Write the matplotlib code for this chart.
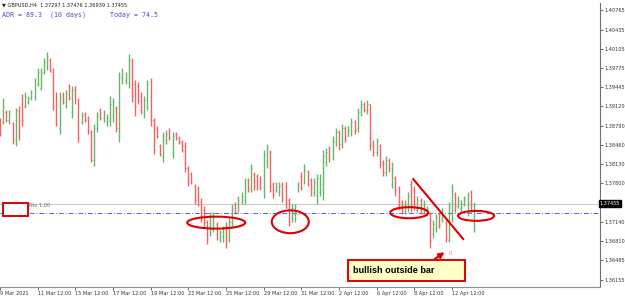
import matplotlib
matplotlib.use("Agg")
import matplotlib.pyplot as plt
from matplotlib.patches import Ellipse, Rectangle

# GBPUSD H4 bars, 9 Mar 12:00 .. 13 Apr
high = [1.3892, 1.3926, 1.3906, 1.3906, 1.3885, 1.3909, 1.3913, 1.3933, 1.3937, 1.3930,
        1.3940, 1.3961, 1.3978, 1.3978, 1.3995, 1.4005, 1.3995, 1.3978, 1.3937, 1.3937,
        1.3937, 1.3940, 1.3950, 1.3947, 1.3947, 1.3926, 1.3902, 1.3902, 1.3896, 1.3872,
        1.3882, 1.3902, 1.3909, 1.3906, 1.3899, 1.3930, 1.3926, 1.3913, 1.3971, 1.3978,
        1.3971, 1.4002, 1.3995, 1.3957, 1.3954, 1.3937, 1.3930, 1.3957, 1.3961, 1.3892,
        1.3878, 1.3848, 1.3868, 1.3872, 1.3875, 1.3868, 1.3868, 1.3861, 1.3854, 1.3851,
        1.3810, 1.3800, 1.3779, 1.3776, 1.3755, 1.3742, 1.3718, 1.3731, 1.3731, 1.3714,
        1.3701, 1.3707, 1.3714, 1.3721, 1.3745, 1.3749, 1.3759, 1.3766, 1.3790, 1.3790,
        1.3813, 1.3800, 1.3796, 1.3793, 1.3837, 1.3848, 1.3837, 1.3783, 1.3783, 1.3783,
        1.3783, 1.3783, 1.3755, 1.3745, 1.3745, 1.3783, 1.3800, 1.3813, 1.3803, 1.3790,
        1.3790, 1.3796, 1.3796, 1.3837, 1.3841, 1.3844, 1.3861, 1.3875, 1.3872, 1.3882,
        1.3878, 1.3878, 1.3892, 1.3889, 1.3909, 1.3923, 1.3919, 1.3923, 1.3916, 1.3854,
        1.3858, 1.3848, 1.3820, 1.3827, 1.3824, 1.3817, 1.3793, 1.3776, 1.3752, 1.3752,
        1.3766, 1.3786, 1.3776, 1.3759, 1.3755, 1.3752, 1.3742, 1.3731, 1.3718, 1.3728,
        1.3731, 1.3738, 1.3718, 1.3749, 1.3779, 1.3766, 1.3759, 1.3752, 1.3759, 1.3766,
        1.3769, 1.3749]
low = [1.3861, 1.3882, 1.3885, 1.3882, 1.3848, 1.3844, 1.3854, 1.3878, 1.3909, 1.3916,
       1.3923, 1.3923, 1.3947, 1.3940, 1.3967, 1.3974, 1.3971, 1.3906, 1.3878, 1.3865,
       1.3916, 1.3909, 1.3923, 1.3892, 1.3916, 1.3851, 1.3882, 1.3885, 1.3865, 1.3817,
       1.3810, 1.3868, 1.3889, 1.3885, 1.3878, 1.3878, 1.3885, 1.3868, 1.3851, 1.3950,
       1.3950, 1.3943, 1.3919, 1.3896, 1.3916, 1.3899, 1.3892, 1.3906, 1.3878, 1.3830,
       1.3858, 1.3827, 1.3817, 1.3848, 1.3854, 1.3824, 1.3854, 1.3848, 1.3834, 1.3800,
       1.3776, 1.3779, 1.3745, 1.3742, 1.3714, 1.3707, 1.3677, 1.3690, 1.3697, 1.3683,
       1.3680, 1.3680, 1.3670, 1.3680, 1.3707, 1.3728, 1.3731, 1.3745, 1.3745, 1.3766,
       1.3766, 1.3769, 1.3769, 1.3769, 1.3755, 1.3807, 1.3766, 1.3755, 1.3766, 1.3759,
       1.3749, 1.3738, 1.3707, 1.3714, 1.3714, 1.3766, 1.3769, 1.3779, 1.3776, 1.3759,
       1.3759, 1.3745, 1.3759, 1.3752, 1.3810, 1.3817, 1.3820, 1.3844, 1.3837, 1.3841,
       1.3851, 1.3861, 1.3861, 1.3865, 1.3868, 1.3896, 1.3902, 1.3899, 1.3837, 1.3827,
       1.3827, 1.3807, 1.3793, 1.3793, 1.3800, 1.3773, 1.3759, 1.3735, 1.3728, 1.3728,
       1.3731, 1.3731, 1.3735, 1.3731, 1.3728, 1.3728, 1.3725, 1.3670, 1.3687, 1.3697,
       1.3704, 1.3714, 1.3680, 1.3680, 1.3714, 1.3731, 1.3738, 1.3731, 1.3742, 1.3725,
       1.3731, 1.3697]
open_ = [1.3889, 1.3885, 1.3902, 1.3889, 1.3882, 1.3854, 1.3906, 1.3926, 1.3913, 1.3919,
         1.3926, 1.3930, 1.3950, 1.3943, 1.3971, 1.3981, 1.3991, 1.3971, 1.3930, 1.3875,
         1.3933, 1.3913, 1.3947, 1.3902, 1.3940, 1.3919, 1.3885, 1.3899, 1.3892, 1.3868,
         1.3820, 1.3875, 1.3906, 1.3892, 1.3885, 1.3889, 1.3896, 1.3909, 1.3875, 1.3961,
         1.3957, 1.3954, 1.3988, 1.3950, 1.3947, 1.3930, 1.3902, 1.3916, 1.3954, 1.3889,
         1.3875, 1.3844, 1.3827, 1.3854, 1.3872, 1.3830, 1.3865, 1.3858, 1.3851, 1.3844,
         1.3807, 1.3796, 1.3776, 1.3773, 1.3749, 1.3735, 1.3714, 1.3697, 1.3704, 1.3711,
         1.3687, 1.3690, 1.3707, 1.3687, 1.3714, 1.3745, 1.3735, 1.3749, 1.3752, 1.3786,
         1.3772, 1.3796, 1.3793, 1.3790, 1.3769, 1.3820, 1.3834, 1.3779, 1.3769, 1.3765,
         1.3779, 1.3776, 1.3752, 1.3721, 1.3728, 1.3728, 1.3793, 1.3776, 1.3800, 1.3786,
         1.3765, 1.3759, 1.3765, 1.3769, 1.3817, 1.3837, 1.3827, 1.3851, 1.3868, 1.3848,
         1.3875, 1.3861, 1.3868, 1.3885, 1.3875, 1.3902, 1.3916, 1.3906, 1.3916, 1.3847,
         1.3834, 1.3844, 1.3817, 1.3800, 1.3820, 1.3779, 1.3790, 1.3772, 1.3749, 1.3731,
         1.3738, 1.3779, 1.3769, 1.3735, 1.3752, 1.3731, 1.3728, 1.3728, 1.3694, 1.3704,
         1.3728, 1.3718, 1.3714, 1.3683, 1.3731, 1.3762, 1.3742, 1.3738, 1.3745, 1.3731,
         1.3766, 1.3707]
close = [1.3865, 1.3913, 1.3889, 1.3902, 1.3854, 1.3906, 1.3889, 1.3889, 1.3930, 1.3926,
         1.3937, 1.3954, 1.3971, 1.3971, 1.3988, 1.3998, 1.3974, 1.3913, 1.3882, 1.3930,
         1.3919, 1.3933, 1.3926, 1.3940, 1.3923, 1.3858, 1.3896, 1.3889, 1.3872, 1.3820,
         1.3875, 1.3896, 1.3892, 1.3902, 1.3892, 1.3916, 1.3919, 1.3875, 1.3964, 1.3967,
         1.3964, 1.3991, 1.3930, 1.3913, 1.3923, 1.3906, 1.3923, 1.3950, 1.3889, 1.3837,
         1.3861, 1.3830, 1.3861, 1.3865, 1.3858, 1.3861, 1.3858, 1.3851, 1.3837, 1.3806,
         1.3783, 1.3783, 1.3752, 1.3745, 1.3721, 1.3714, 1.3687, 1.3725, 1.3721, 1.3690,
         1.3697, 1.3701, 1.3683, 1.3714, 1.3738, 1.3731, 1.3752, 1.3759, 1.3783, 1.3769,
         1.3807, 1.3776, 1.3776, 1.3773, 1.3830, 1.3841, 1.3776, 1.3762, 1.3776, 1.3776,
         1.3755, 1.3749, 1.3714, 1.3738, 1.3742, 1.3776, 1.3773, 1.3803, 1.3786, 1.3773,
         1.3782, 1.3790, 1.3779, 1.3827, 1.3834, 1.3823, 1.3854, 1.3868, 1.3847, 1.3875,
         1.3857, 1.3872, 1.3885, 1.3872, 1.3902, 1.3916, 1.3906, 1.3916, 1.3844, 1.3834,
         1.3851, 1.3813, 1.3800, 1.3820, 1.3806, 1.3806, 1.3769, 1.3742, 1.3735, 1.3745,
         1.3759, 1.3742, 1.3745, 1.3752, 1.3735, 1.3745, 1.3738, 1.3683, 1.3711, 1.3721,
         1.3711, 1.3731, 1.3687, 1.3742, 1.3769, 1.3742, 1.3752, 1.3745, 1.3755, 1.3759,
         1.3742, 1.37455]

date_idx = [0, 12, 24, 36, 48, 60, 72, 84, 96, 108, 120, 132, 144]
date_labels = ["9 Mar 2021", "11 Mar 12:00", "15 Mar 12:00", "17 Mar 12:00", "19 Mar 12:00",
               "23 Mar 12:00", "25 Mar 12:00", "29 Mar 12:00", "31 Mar 12:00", "2 Apr 12:00",
               "6 Apr 12:00", "8 Apr 12:00", "12 Apr 12:00"]
price_ticks = [1.40765, 1.40435, 1.40105, 1.39775, 1.39445, 1.39120, 1.38790, 1.38460,
               1.38130, 1.37800, 1.37140, 1.36810, 1.36485, 1.36155]
bid = 1.37455
day_open = 1.37297

GREEN = "#6ab46a"
RED = "#f26262"

fig = plt.figure(figsize=(6.25, 2.97), dpi=100)
ax = fig.add_axes([0, 0.034, 0.96, 0.956])
ax.set_xlim(0.16, 191.2)
ax.set_ylim(1.3603, 1.4089)

n = len(close)
xs = list(range(n))
cols = [GREEN if c >= o else RED for o, c in zip(open_, close)]
ax.vlines(xs, low, high, colors=cols, lw=1.0)
ax.hlines(open_, [x - 0.3 for x in xs], xs, colors=cols, lw=0.6)
ax.hlines(close, xs, [x + 0.3 for x in xs], colors=cols, lw=0.6)

# bid line and daily open line
ax.axhline(bid, color="#cccccc", lw=0.8, zorder=0)
ax.axhline(day_open, color="#5a5af0", lw=0.7, ls=(0, (5, 2, 1, 2)), zorder=0)
ax.text(9.4, 1.3742, "Niv 1.00", fontsize=3.6, color="#666666", va="center")
ax.add_patch(Rectangle((1.1, 1.37243), 7.7, 0.00222, facecolor="white",
                       edgecolor="#e00000", lw=1.4, zorder=5))

# annotations
for cx, cy, w, h in [(68.9, 1.3713, 18.5, 0.00205), (92.5, 1.37145, 11.8, 0.0039),
                     (130.4, 1.3730, 12.1, 0.0019), (151.7, 1.37246, 11.5, 0.0017)]:
    ax.add_patch(Ellipse((cx, cy), w, h, fill=False, edgecolor="#e00000", lw=1.5, zorder=6))
ax.plot([131.7, 147.6], [1.37875, 1.36849], color="#e00000", lw=1.5, zorder=6)
ax.annotate("", xy=(142.4, 1.3665), xytext=(137.8, 1.3648),
            arrowprops=dict(arrowstyle="-|>", color="#e00000", lw=1.5, mutation_scale=8),
            zorder=6)
ax.text(143.4, 1.3661, "0", fontsize=3.6, color="#f07070", ha="center", va="center")
ax.add_patch(Rectangle((111.0, 1.36138), 37.2, 0.0036, facecolor="#ffffc8",
                       edgecolor="#e00000", lw=1.4, zorder=6))
ax.text(112.6, 1.36318, "bullish outside bar", fontsize=6.6, color="black",
        family="Liberation Sans", weight="bold", va="center", zorder=7)

# axes styling
for s in ["left", "top"]:
    ax.spines[s].set_visible(False)
ax.spines["right"].set_color("#707070")
ax.spines["bottom"].set_color("#909090")
ax.spines["right"].set_linewidth(0.8)
ax.spines["bottom"].set_linewidth(0.8)
ax.yaxis.tick_right()
ax.set_yticks(price_ticks)
ax.set_yticklabels([f"{p:.5f}" for p in price_ticks])
ax.tick_params(axis="y", labelsize=3.6, colors="#333333", length=2, width=0.5, pad=1)
ax.set_xticks(date_idx)
ax.set_xticklabels(date_labels, ha="left")
ax.tick_params(axis="x", labelsize=3.6, colors="#333333", length=2, width=0.5, pad=1)

ax.text(1.0, bid, "1.37455", transform=ax.get_yaxis_transform(), fontsize=3.6,
        color="white", va="center", ha="left",
        bbox=dict(boxstyle="square,pad=0.2", facecolor="black", edgecolor="black"))

fig.text(0.004, 0.983, "\u25bc GBPUSD,H4  1.37297 1.37476 1.36939 1.37455", fontsize=3.6,
         color="#222222", va="center")
fig.text(0.004, 0.952, "ADR = 89.3  (10 days)      Today = 74.5", fontsize=4.8,
         family="DejaVu Sans Mono", color="#4b4bd2", va="center")

fig.savefig("out.png", dpi=100)
